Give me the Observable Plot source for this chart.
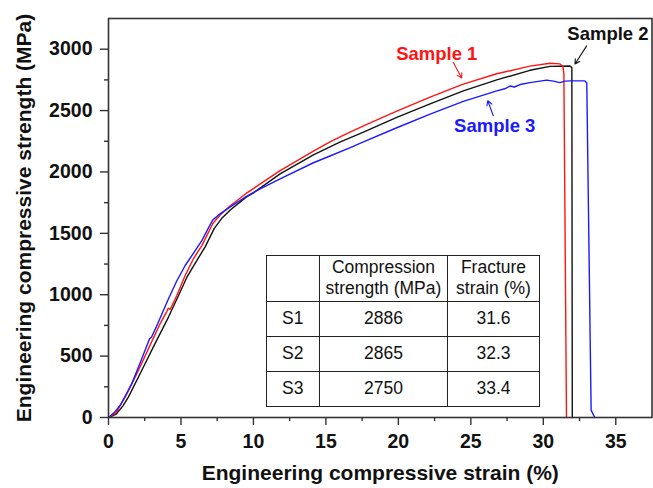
<!DOCTYPE html>
<html><head><meta charset="utf-8">
<script src="https://cdn.jsdelivr.net/npm/d3@7"></script>
<script src="https://cdn.jsdelivr.net/npm/@observablehq/plot@0.6"></script>
<style>
body{margin:0;background:#fff;}
#wrap{position:relative;width:653px;height:488px;font-family:'Liberation Sans',Arial,sans-serif;}
#tbl{position:absolute;left:265.7px;top:254.7px;border-collapse:collapse;table-layout:fixed;width:273px;font-size:17.5px;color:#111;line-height:21px;}
#tbl td{border:1.3px solid #222;text-align:center;padding:0;vertical-align:middle;}
</style></head>
<body><div id="wrap"></div>
<script>
// Sample curves: [strain %, stress MPa]
const sample1 = [[0,0],[0.5,35],[1.16,168],[2.07,385],[2.76,561],[3.5,750],[4.03,865],[4.12,890],[4.25,880],[4.7,990],[5.29,1157],[5.86,1293],[6.44,1400],[7.2,1580],[7.7,1650],[8.4,1725],[9.5,1825],[10.5,1905],[11.84,2011],[14.14,2170],[15.28,2245],[16.3,2305],[17.59,2375],[19.89,2495],[22.19,2610],[24.48,2715],[26.79,2800],[29.08,2862],[30.46,2886],[31.15,2880],[31.35,2860],[31.42,2800],[31.6,0]];
const sample2 = [[0,0],[0.5,25],[1.0,95],[1.38,168],[2.3,385],[3.2,600],[4.14,818],[4.8,985],[5.41,1143],[6.1,1280],[6.67,1390],[7.3,1540],[7.8,1620],[8.4,1690],[9.5,1795],[10,1830],[11.84,1984],[14.14,2140],[15.28,2205],[16.0,2245],[17.59,2325],[19.89,2445],[22.19,2555],[24.48,2660],[26.79,2750],[29.08,2828],[30.46,2860],[31.84,2863],[31.97,2850],[32.0,0]];
const sample3 = [[0,0],[0.4,40],[0.81,100],[1.2,185],[1.61,276],[2.2,450],[2.76,620],[2.85,645],[2.95,650],[3.4,765],[4.14,967],[4.7,1110],[5.29,1238],[5.9,1345],[6.44,1441],[6.9,1545],[7.2,1610],[7.6,1650],[8.4,1715],[9.5,1800],[10.5,1865],[11.84,1943],[14.14,2075],[15.28,2130],[16.6,2195],[17.59,2245],[19.89,2360],[22.19,2471],[24.48,2575],[26.79,2660],[27.4,2680],[27.7,2700],[28.0,2692],[28.4,2712],[29.08,2728],[30.23,2748],[30.7,2740],[31.15,2728],[31.5,2740],[31.84,2742],[32.87,2742],[33.0,2725],[33.3,60],[33.55,0]];

const xMajor = [0,5,10,15,20,25,30,35];
const xMinor = [2.5,7.5,12.5,17.5,22.5,27.5,32.5];
const yMajor = [0,500,1000,1500,2000,2500,3000];
const yMinor = [250,750,1250,1750,2250,2750];

const xTitle = "Engineering compressive strain (%)";
const yTitle = "Engineering compressive strength (MPa)";

const labelNames = ["Sample 1","Sample 2","Sample 3"];
const labelColors = ["#ff1414","#111111","#1a1aff"];
const labelX = [22.65, 34.46, 26.65];
const labelY = [2959, 3122, 2376];
const arrowX1 = [23.79, 32.99, 26.55];
const arrowY1 = [2891, 3027, 2458];
const arrowX2 = [24.37, 32.19, 26.17];
const arrowY2 = [2765, 2880, 2580];

const tableSamples = ["S1","S2","S3"];
const tableStrength = ["2886","2865","2750"];
const tableFracture = ["31.6","32.3","33.4"];
const tableHeader = ["", "Compression<br>strength (MPa)", "Fracture<br>strain (%)"];

const labels = labelNames.map((n,i)=>({n, c: labelColors[i], x: labelX[i], y: labelY[i], x1: arrowX1[i], y1: arrowY1[i], x2: arrowX2[i], y2: arrowY2[i]}));

const font = "'Liberation Sans', Arial, sans-serif";
const chart = Plot.plot({
  width: 653, height: 488,
  marginTop: 18, marginBottom: 71, marginLeft: 108, marginRight: 1.5,
  x: {domain: [0, 37.5]},
  y: {domain: [0, 3250]},
  style: {fontFamily: font, background: "white", color: "#111", overflow: "visible"},
  marks: [
    Plot.axisX(xMajor, {tickSize: 8, tickPadding: 9, fontSize: 19.5, fontWeight: "bold", strokeWidth: 1.4, stroke: "#333", tickFormat: d3.format("d"), label: null}),
    Plot.axisX(xMinor, {tickSize: 4, tickFormat: () => "", strokeWidth: 1.4, stroke: "#333", label: null}),
    Plot.axisY(yMajor, {tickSize: 8, tickPadding: 8, fontSize: 19.5, fontWeight: "bold", strokeWidth: 1.4, stroke: "#333", tickFormat: d3.format("d"), label: null}),
    Plot.axisY(yMinor, {tickSize: 4, tickFormat: () => "", strokeWidth: 1.4, stroke: "#333", label: null}),
    Plot.line(sample2, {x: d => d[0], y: d => d[1], stroke: "#111", strokeWidth: 1.4}),
    Plot.line(sample1, {x: d => d[0], y: d => d[1], stroke: "#ff1414", strokeWidth: 1.4}),
    Plot.line(sample3, {x: d => d[0], y: d => d[1], stroke: "#1a1aff", strokeWidth: 1.4}),
    Plot.frame({stroke: "#333", strokeWidth: 1.6}),
    Plot.arrow(labels, {x1: "x1", y1: "y1", x2: "x2", y2: "y2", stroke: "c", strokeWidth: 1.1, headLength: 7}),
    Plot.text(labels, {x: "x", y: "y", text: "n", fill: "c", fontSize: 18.5, fontWeight: "bold"}),
    Plot.text([xTitle], {frameAnchor: "bottom", textAnchor: "middle", lineAnchor: "middle", dy: 56, fontSize: 21, fontWeight: "bold", fill: "#111"}),
    Plot.text([yTitle], {frameAnchor: "left", textAnchor: "middle", lineAnchor: "middle", rotate: -90, dx: -84, fontSize: 21, fontWeight: "bold", fill: "#111"})
  ]
});
const wrap = document.getElementById("wrap");
wrap.appendChild(chart);

const tbl = document.createElement("table");
tbl.id = "tbl";
tbl.innerHTML =
  `<colgroup><col style="width:53px"><col style="width:128.6px"><col style="width:91.4px"></colgroup>` +
  `<tr style="height:46px">${tableHeader.map(h => `<td>${h}</td>`).join("")}</tr>` +
  tableSamples.map((s, i) => `<tr style="height:35px"><td>${s}</td><td>${tableStrength[i]}</td><td>${tableFracture[i]}</td></tr>`).join("");
wrap.appendChild(tbl);
</script></body></html>
